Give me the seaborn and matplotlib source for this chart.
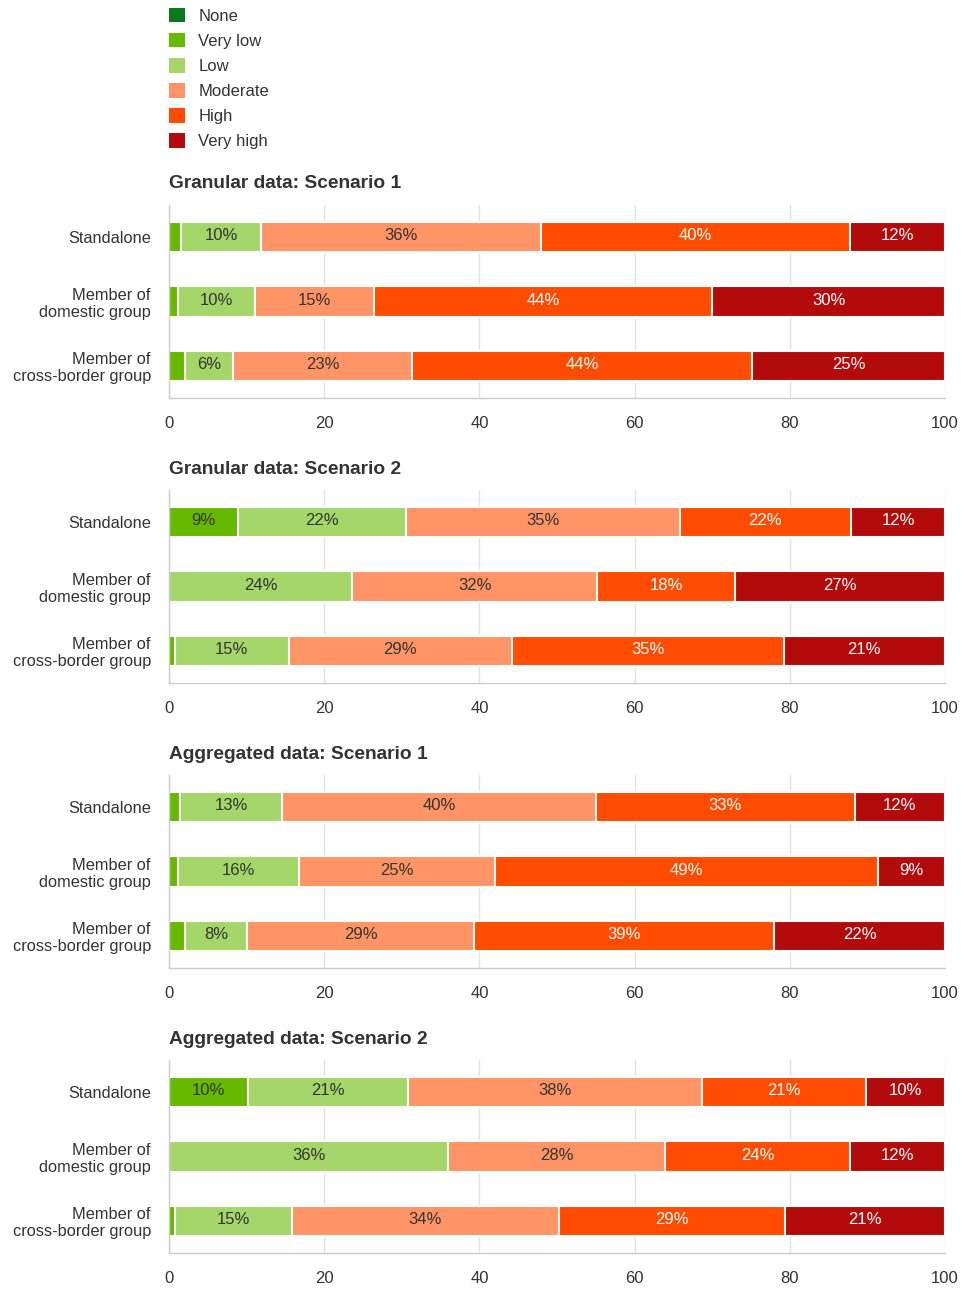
import matplotlib
matplotlib.use("Agg")
import matplotlib.pyplot as plt
from matplotlib.patches import Patch
import numpy as np
import pandas as pd
import seaborn as sns

# Risk categories and their colours
categories = ["None", "Very low", "Low", "Moderate", "High", "Very high"]
colors = ["#0b7a1f", "#66b800", "#a5d66a", "#ff9466", "#ff4c00", "#b30b0b"]
light_text = {"High", "Very high"}

groups = ["Standalone", "Member of\ndomestic group", "Member of\ncross-border group"]

# Share of entities (%) per category, one list entry per group
granular_s1 = {
    "None": [0, 0, 0],
    "Very low": [1.5, 1.1, 2.0],
    "Low": [10.4, 10.0, 6.3],
    "Moderate": [36.0, 15.3, 23.0],
    "High": [39.8, 43.6, 43.8],
    "Very high": [12.3, 30.0, 24.9],
}
granular_s2 = {
    "None": [0, 0, 0],
    "Very low": [8.9, 0.0, 0.8],
    "Low": [21.7, 23.6, 14.6],
    "Moderate": [35.2, 31.6, 28.8],
    "High": [22.1, 17.7, 35.0],
    "Very high": [12.1, 27.1, 20.8],
}
aggregated_s1 = {
    "None": [0, 0, 0],
    "Very low": [1.4, 1.1, 2.0],
    "Low": [13.2, 15.6, 8.1],
    "Moderate": [40.4, 25.3, 29.2],
    "High": [33.4, 49.4, 38.7],
    "Very high": [11.6, 8.6, 22.0],
}
aggregated_s2 = {
    "None": [0, 0, 0],
    "Very low": [10.2, 0.0, 0.8],
    "Low": [20.6, 36.0, 15.1],
    "Moderate": [37.9, 27.9, 34.3],
    "High": [21.1, 23.9, 29.2],
    "Very high": [10.2, 12.2, 20.6],
}

panels = [
    ("Granular data: Scenario 1", granular_s1),
    ("Granular data: Scenario 2", granular_s2),
    ("Aggregated data: Scenario 1", aggregated_s1),
    ("Aggregated data: Scenario 2", aggregated_s2),
]

sns.set_theme(style="whitegrid")
plt.rcParams["font.family"] = ["Liberation Sans", "DejaVu Sans"]

W, H = 972, 1290
fig = plt.figure(figsize=(W / 100, H / 100), dpi=100)

ax_left, ax_width, ax_height = 169, 776, 193
panel_tops = [205, 490, 775, 1060]
text_dark = "#333333"

for (title, data), top in zip(panels, panel_tops):
    ax = fig.add_axes([ax_left / W, 1 - (top + ax_height) / H, ax_width / W, ax_height / H])

    values = pd.DataFrame(data, index=groups)[categories]
    cumulative = values.cumsum(axis=1)

    # Stacked bars: draw the running totals from the longest down so each
    # shorter total covers the start of the previous one.
    for cat, col in reversed(list(zip(categories, colors))):
        if values[cat].sum() == 0:
            continue
        frame = pd.DataFrame({"group": groups, "total": cumulative[cat].values})
        sns.barplot(data=frame, x="total", y="group", order=groups, orient="h",
                    color=col, saturation=1, width=0.47,
                    edgecolor="white", linewidth=1.5, ax=ax)

    for i, g in enumerate(groups):
        for cat in categories:
            v = values.loc[g, cat]
            if v >= 5:
                start = cumulative.loc[g, cat] - v
                ax.text(start + v / 2, i - 0.02, f"{v:.0f}%", ha="center", va="center",
                        fontsize=12, color="white" if cat in light_text else text_dark)

    ax.set_xlim(0, 100)
    ax.set_ylim(2.5, -0.5)
    ax.set_xticks(np.arange(0, 101, 20))
    ax.set_xlabel("")
    ax.set_ylabel("")
    ax.grid(axis="x", color="#e3e3e3", linewidth=1)
    ax.grid(axis="y", visible=False)
    ax.set_axisbelow(True)
    for side in ("top", "right"):
        ax.spines[side].set_visible(False)
    for side in ("left", "bottom"):
        ax.spines[side].set_visible(True)
        ax.spines[side].set_color("#cccccc")
        ax.spines[side].set_linewidth(1)
    ax.tick_params(axis="x", length=0, pad=13, labelsize=12, labelcolor=text_dark)
    ax.tick_params(axis="y", length=0, pad=13, labelsize=11.8, labelcolor=text_dark)
    for lab in ax.get_yticklabels():
        lab.set_linespacing(1.15)

    ax.text(0, 1 + 21 / ax_height, title, transform=ax.transAxes, ha="left", va="center",
            fontsize=13.8, fontweight="bold", color=text_dark)

handles = [Patch(facecolor=c, edgecolor="none") for c in colors]
fig.legend(handles, categories, loc="upper left",
           bbox_to_anchor=(ax_left / W, 1 - 8 / H), frameon=False,
           fontsize=12, handlelength=0.95, handleheight=0.95, handletextpad=0.8,
           labelspacing=0.55, borderpad=0, borderaxespad=0, labelcolor=text_dark)

fig.savefig("out.png", dpi=100)
